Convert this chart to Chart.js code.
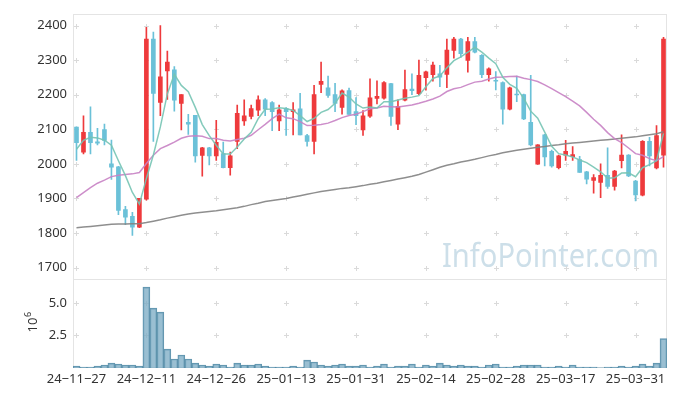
<!DOCTYPE html>
<html><head><meta charset="utf-8">
<script src="https://cdn.jsdelivr.net/npm/chart.js@4.4.1/dist/chart.umd.min.js"></script>
<style>html,body{margin:0;padding:0;background:#fff;}#wrap{width:677px;height:396px;}</style>
</head><body><div id="wrap"><canvas id="c" width="677" height="396"></canvas></div>
<script>
const dates = ['24-11-27','24-11-28','24-11-29','24-12-02','24-12-03','24-12-04','24-12-05','24-12-06','24-12-09','24-12-10',
'24-12-11','24-12-12','24-12-13','24-12-16','24-12-17','24-12-18','24-12-19','24-12-20','24-12-23','24-12-24',
'24-12-26','24-12-27','24-12-30','25-01-02','25-01-03','25-01-06','25-01-07','25-01-08','25-01-09','25-01-10',
'25-01-13','25-01-14','25-01-15','25-01-16','25-01-17','25-01-20','25-01-21','25-01-22','25-01-23','25-01-24',
'25-01-31','25-02-03','25-02-04','25-02-05','25-02-06','25-02-07','25-02-10','25-02-11','25-02-12','25-02-13',
'25-02-14','25-02-17','25-02-18','25-02-19','25-02-20','25-02-21','25-02-24','25-02-25','25-02-26','25-02-27',
'25-02-28','25-03-04','25-03-05','25-03-06','25-03-07','25-03-10','25-03-11','25-03-12','25-03-13','25-03-14',
'25-03-17','25-03-18','25-03-19','25-03-20','25-03-21','25-03-24','25-03-25','25-03-26','25-03-27','25-03-28',
'25-03-31','25-04-01','25-04-02','25-04-03','25-04-04'];

const openP = [2106,2034,2091,2064,2099,2000,1991,1868,1848,1817,
1898,2361,2178,2269,2272,2175,2120,2140,2024,2046,
2023,2030,1989,2065,2124,2137,2155,2185,2177,2124,
2160,2151,2159,2082,2065,2230,2220,2200,2163,2212,
2151,2098,2138,2189,2190,2232,2115,2184,2216,2203,
2249,2258,2260,2259,2328,2361,2299,2354,2314,2258,
2241,2235,2158,2201,2200,2120,1999,2084,2036,1989,
2025,2021,2012,1977,1952,1946,1967,1935,2009,2025,
1950,1909,2065,1988,2025];
const highP = [2107,2139,2165,2103,2115,2069,1993,1877,1860,1900,
2395,2381,2400,2326,2281,2200,2143,2140,2048,2048,
2126,2063,2034,2170,2185,2170,2197,2189,2180,2170,
2163,2177,2204,2085,2227,2294,2254,2233,2214,2219,
2192,2154,2246,2240,2238,2233,2185,2271,2260,2300,
2268,2294,2285,2361,2366,2363,2366,2366,2316,2278,
2267,2237,2222,2254,2202,2256,2056,2085,2040,2025,
2068,2050,2022,1978,1969,2000,2046,1981,2084,2027,
1952,2067,2077,2111,2366];
const lowP = [2010,2029,2029,2055,2055,1955,1853,1824,1793,1815,
1895,2065,2139,2186,2152,2098,2085,2005,1964,1997,
2010,1988,1967,2044,2111,2130,2139,2139,2096,2096,
2082,2084,2084,2051,2029,2206,2192,2151,2144,2143,
2113,2082,2134,2173,2187,2111,2099,2182,2200,2200,
2213,2239,2223,2220,2306,2308,2265,2321,2249,2239,
2214,2115,2156,2180,2128,2052,1998,1994,1990,1985,
2010,2010,1975,1942,1915,1902,1929,1924,1988,1963,
1893,1907,1994,1985,1990];
const closeP = [2061,2091,2061,2060,2068,1990,1865,1846,1817,1900,
2361,2204,2252,2294,2184,2200,2115,2023,2046,2023,
2062,1989,2023,2146,2139,2160,2185,2158,2151,2156,
2151,2156,2084,2065,2200,2239,2198,2175,2211,2143,
2139,2139,2191,2195,2235,2137,2166,2215,2212,2256,
2266,2286,2251,2329,2361,2319,2354,2323,2258,2275,
2239,2158,2220,2199,2130,2055,2055,2020,1994,2023,
2036,2027,1975,1956,1960,1967,1935,1979,2025,1965,
1910,2065,2023,2082,2361];
const volume = [150000,80000,80000,150000,230000,380000,310000,230000,230000,150000,
6200000,4590000,4290000,1450000,690000,1000000,690000,380000,230000,150000,
310000,230000,80000,380000,230000,230000,310000,150000,80000,80000,
80000,150000,80000,610000,460000,230000,150000,230000,310000,150000,
150000,230000,80000,150000,310000,80000,150000,150000,310000,80000,
230000,150000,380000,230000,150000,230000,150000,150000,80000,230000,
310000,80000,80000,150000,230000,230000,230000,80000,80000,150000,
80000,230000,80000,80000,80000,10000,80000,80000,150000,80000,
150000,310000,150000,380000,2250000];
const ma5 = [2042,2068,2077,2075,2068.2,2054,2008.8,1965.8,1917.2,1883.6,
1957.8,2025.6,2106.8,2202.2,2259,2226.8,2209,2163.2,2113.6,2081.4,
2053.8,2028.6,2028.6,2048.6,2071.8,2091.4,2130.6,2157.6,2158.6,2162,
2160.2,2154.4,2139.6,2122.4,2131.2,2148.8,2157.2,2175.4,2204.6,2193.2,
2173.2,2161.4,2164.6,2161.4,2179.8,2179.4,2184.8,2189.6,2193,2197.2,
2223,2247,2254.2,2277.6,2298.6,2309.2,2322.8,2337.2,2323,2305.8,
2289.8,2250.6,2230,2218.2,2189.2,2152.4,2131.8,2091.8,2050.8,2029.4,
2025.6,2020,2011,2003.4,1990.8,1977,1958.6,1959.4,1973.2,1974.2,
1962.8,1988.8,1997.6,2009,2088.2];
const ma20 = [1902,1917,1931,1944,1953,1963,1967,1969,1971,1975,
2001,2025,2044,2053,2063,2074,2080,2081,2080,2073,
2073.1,2068,2066.1,2070.4,2074,2082.5,2098.5,2114.1,2130.8,2143.6,
2133.1,2130.7,2122.3,2110.8,2111.6,2113.6,2117.7,2125.3,2133.6,2139.6,
2143.4,2150.9,2159.3,2161.8,2166.6,2165.4,2164.5,2167.3,2170.4,2175.4,
2181.1,2187.6,2196,2209.2,2217.2,2221.2,2229,2236.4,2238.8,2245.4,
2250.4,2251.3,2252.8,2253,2247.7,2243.6,2238.1,2228.3,2217.4,2205.8,
2194.3,2181.3,2167.5,2148.9,2128.8,2111.2,2090.3,2073.1,2061.4,2045.9,
2029.5,2024.8,2015,2009.1,2020.7];
const ma120 = [1815,1817,1819,1821,1823,1825,1826,1826,1827,1827,
1830,1834,1838,1843,1847,1851,1855,1858,1860,1862,
1864,1867,1870,1873,1877,1882,1886,1891,1894,1897,
1900,1904,1908,1912,1916,1920,1923,1926,1929,1931,
1934,1937,1941,1944,1948,1952,1956,1960,1964,1969,
1976,1983,1990,1996,2000,2005,2009,2013,2018,2023,
2027,2032,2036,2039,2042,2045,2048,2050,2053,2055,
2058,2060,2062,2064,2066,2068,2070,2072,2074,2076,
2078,2081,2084,2087,2093];
const priceTicks = [1700,1800,1900,2000,2100,2200,2300,2400];
const volumeTicks = [2500000,5000000];

const UP = '#ee3a3c', DOWN = '#6bc1d8';
const FONT = '"Noto Sans", "Open Sans", sans-serif';
const candleColor = c => { const i = c.dataIndex; return closeP[i] >= openP[i] ? UP : DOWN; };

const panelPlugin = {
  id: 'panels',
  beforeDatasetsDraw(chart) {
    const {ctx, chartArea, scales} = chart;
    const x = scales.x, y = scales.y, yv = scales.yv;
    ctx.save();
    ctx.fillStyle = 'rgba(150,188,210,0.48)';
    ctx.font = '33px ' + FONT;
    ctx.textBaseline = 'alphabetic';
    ctx.fillText('InfoPointer.com', 442, 267, 217);
    ctx.strokeStyle = '#e4e4e4';
    ctx.lineWidth = 1;
    const l = Math.round(chartArea.left) + 0.5, r = Math.round(chartArea.right) - 0.5;
    ctx.strokeRect(l, Math.round(y.top) + 0.5, r - l, Math.round(y.bottom) - Math.round(y.top));
    ctx.strokeRect(l, Math.round(yv.top) + 0.5, r - l, Math.round(yv.bottom) - Math.round(yv.top) - 1);
    ctx.strokeStyle = '#dadada';
    const cross = (px, py) => {
      px = Math.round(px) + 0.5; py = Math.round(py) + 0.5;
      ctx.beginPath();
      ctx.moveTo(px - 2.5, py); ctx.lineTo(px + 2.5, py);
      ctx.moveTo(px, py - 2.5); ctx.lineTo(px, py + 2.5);
      ctx.stroke();
    };
    for (let i = 0; i < dates.length; i += 10) {
      const px = x.getPixelForValue(i);
      priceTicks.forEach(v => cross(px, y.getPixelForValue(v)));
      volumeTicks.forEach(v => cross(px, yv.getPixelForValue(v)));
    }
    ctx.restore();
  },
  afterDraw(chart) {
    const {ctx, scales} = chart;
    const yv = scales.yv;
    const cy = (yv.top + yv.bottom) / 2;
    ctx.save();
    ctx.fillStyle = '#333';
    ctx.translate(37, cy + 9);
    ctx.rotate(-Math.PI / 2);
    ctx.font = '13px ' + FONT;
    ctx.textBaseline = 'alphabetic';
    ctx.fillText('10', 0, 0);
    const w = ctx.measureText('10').width;
    ctx.font = '9px ' + FONT;
    ctx.fillText('6', w + 0.5, -6);
    ctx.restore();
  }
};

new Chart(document.getElementById('c'), {
  type: 'bar',
  data: {
    labels: dates,
    datasets: [
      { type: 'line', data: ma5, yAxisID: 'y', borderColor: 'rgba(118,196,180,0.9)', borderWidth: 1.5, pointRadius: 0, tension: 0, order: 0 },
      { type: 'line', data: ma20, yAxisID: 'y', borderColor: 'rgba(200,130,196,0.9)', borderWidth: 1.5, pointRadius: 0, tension: 0, order: 0 },
      { type: 'line', data: ma120, yAxisID: 'y', borderColor: 'rgba(130,130,130,0.9)', borderWidth: 1.5, pointRadius: 0, tension: 0, order: 0 },
      { data: dates.map((d, i) => [lowP[i], highP[i]]), yAxisID: 'y', backgroundColor: candleColor, barThickness: 1, grouped: false, order: 2 },
      { data: dates.map((d, i) => [openP[i], closeP[i]]), yAxisID: 'y', backgroundColor: candleColor, barThickness: 4, minBarLength: 1, grouped: false, order: 1 },
      { data: volume, yAxisID: 'yv', backgroundColor: 'rgba(120,170,195,0.75)', borderColor: 'rgba(70,130,160,0.85)', borderWidth: 1, categoryPercentage: 1, barPercentage: 1, grouped: false, order: 3 }
    ]
  },
  options: {
    responsive: false,
    animation: false,
    layout: { padding: { top: 10, right: 10, left: 0, bottom: 0 } },
    plugins: { legend: { display: false }, tooltip: { enabled: false } },
    scales: {
      x: {
        type: 'category', offset: true,
        grid: { display: false, drawTicks: false }, border: { display: false },
        ticks: { autoSkip: false, maxRotation: 0, minRotation: 0, padding: 3, color: '#333', font: { family: FONT, size: 13 },
          callback: (v, i) => (i % 10 === 0 ? dates[i].replace(/-/g, '\u2212') : '') },
        afterFit: s => { s.height = 28; }
      },
      yv: {
        position: 'left', stack: 'panes', stackWeight: 90, min: 0, max: 6830000,
        grid: { display: false, drawTicks: false }, border: { display: false },
        afterBuildTicks: s => { s.ticks = volumeTicks.map(v => ({ value: v })); },
        ticks: { padding: 6, color: '#333', font: { family: FONT, size: 13 },
          callback: v => (v / 1e6).toFixed(1) },
        afterFit: s => { s.width = 73; }
      },
      y: {
        position: 'left', stack: 'panes', stackWeight: 268, min: 1667, max: 2434,
        grid: { display: false, drawTicks: false }, border: { display: false },
        afterBuildTicks: s => { s.ticks = priceTicks.map(v => ({ value: v })); },
        ticks: { padding: 6, color: '#333', font: { family: FONT, size: 13 }, callback: v => String(v) },
        afterFit: s => { s.width = 73; }
      }
    }
  },
  plugins: [panelPlugin]
});
</script></body></html>
